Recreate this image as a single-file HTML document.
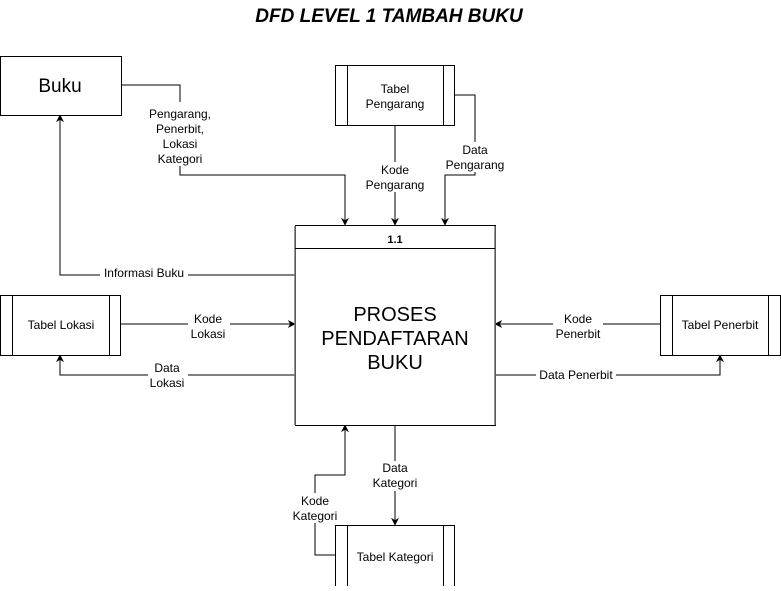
<!DOCTYPE html>
<html><head><meta charset="utf-8"><style>
body{margin:0;background:#fff;width:781px;height:586px;overflow:hidden}
svg text{font-family:"Liberation Sans",Arial,sans-serif;fill:#000}
</style></head><body>
<svg width="781" height="586" viewBox="0 0 781 586" xmlns="http://www.w3.org/2000/svg">
<defs><marker id="a" viewBox="0 0 10 10" refX="9" refY="5" markerWidth="8" markerHeight="8" orient="auto" markerUnits="userSpaceOnUse"><path d="M0,0 L10,5 L0,10 L3,5 z" fill="#000"/></marker></defs>
<text x="389" y="22" text-anchor="middle" font-size="19" font-weight="bold" font-style="italic">DFD LEVEL 1 TAMBAH BUKU</text>
<g fill="none" stroke="#000" stroke-width="1">
<path d="M122,85H180V175H345V225" marker-end="url(#a)"/>
<path d="M395,125V225" marker-end="url(#a)"/>
<path d="M455,95H475V175H445V225" marker-end="url(#a)"/>
<path d="M295,275H60V115" marker-end="url(#a)"/>
<path d="M121,324H295" marker-end="url(#a)"/>
<path d="M295,375H60V355" marker-end="url(#a)"/>
<path d="M660,324H495" marker-end="url(#a)"/>
<path d="M495,375H720V355" marker-end="url(#a)"/>
<path d="M395,425V525" marker-end="url(#a)"/>
<path d="M335,555H315V475H345V425" marker-end="url(#a)"/>
</g>
<g fill="#fff" stroke="#000">
<rect x="0.5" y="56.5" width="121" height="59"/>
<rect x="335.5" y="65.5" width="119" height="60"/>
<rect x="0.5" y="295.5" width="120" height="60"/>
<rect x="660.5" y="295.5" width="120" height="60"/>
<rect x="335.5" y="525.5" width="119" height="70"/>
<rect x="295.5" y="225.5" width="200" height="200"/>
</g>
<g stroke="#777" stroke-width="1.5">
<line x1="295" y1="226" x2="295" y2="425"/><line x1="495" y1="226" x2="495" y2="425"/>
</g>
<g stroke="#000">
<line x1="295" y1="248.5" x2="495" y2="248.5"/>
<line x1="347.5" y1="65" x2="347.5" y2="125"/><line x1="443.5" y1="65" x2="443.5" y2="125"/>
<line x1="12.5" y1="295" x2="12.5" y2="355"/><line x1="109.5" y1="295" x2="109.5" y2="355"/>
<line x1="672.5" y1="295" x2="672.5" y2="355"/><line x1="768.5" y1="295" x2="768.5" y2="355"/>
<line x1="347.5" y1="525" x2="347.5" y2="586"/><line x1="443.5" y1="525" x2="443.5" y2="586"/>
</g>
<text x="60" y="92" text-anchor="middle" font-size="19">Buku</text>
<text x="395" y="93" text-anchor="middle" font-size="12">Tabel</text>
<text x="395" y="108" text-anchor="middle" font-size="12">Pengarang</text>
<text x="61" y="329" text-anchor="middle" font-size="12">Tabel Lokasi</text>
<text x="720" y="329" text-anchor="middle" font-size="12">Tabel Penerbit</text>
<text x="395" y="561" text-anchor="middle" font-size="12">Tabel Kategori</text>
<text x="395" y="243" text-anchor="middle" font-size="11" font-weight="bold">1.1</text>
<text x="395" y="321" text-anchor="middle" font-size="20">PROSES</text>
<text x="395" y="345" text-anchor="middle" font-size="20">PENDAFTARAN</text>
<text x="395" y="369" text-anchor="middle" font-size="20">BUKU</text>
<g font-size="12" text-anchor="middle">
<rect x="143" y="102" width="74" height="64" fill="#fff"/>
<text x="180" y="118">Pengarang,</text><text x="180" y="133">Penerbit,</text><text x="180" y="148">Lokasi</text><text x="180" y="163">Kategori</text>
<rect x="360" y="162" width="72" height="30" fill="#fff"/>
<text x="395" y="174">Kode</text><text x="395" y="189">Pengarang</text>
<rect x="440" y="142" width="70" height="30" fill="#fff"/>
<text x="475" y="154">Data</text><text x="475" y="169">Pengarang</text>
<rect x="100" y="267" width="88" height="14" fill="#fff"/>
<text x="144" y="277">Informasi Buku</text>
<rect x="188" y="312" width="42" height="30" fill="#fff"/>
<text x="208" y="323">Kode</text><text x="208" y="338">Lokasi</text>
<rect x="148" y="362" width="40" height="30" fill="#fff"/>
<text x="167" y="372">Data</text><text x="167" y="387">Lokasi</text>
<rect x="553" y="312" width="50" height="30" fill="#fff"/>
<text x="578" y="323">Kode</text><text x="578" y="338">Penerbit</text>
<rect x="536" y="368" width="80" height="14" fill="#fff"/>
<text x="576" y="379">Data Penerbit</text>
<rect x="368" y="461" width="54" height="30" fill="#fff"/>
<text x="395" y="472">Data</text><text x="395" y="487">Kategori</text>
<rect x="288" y="493" width="54" height="30" fill="#fff"/>
<text x="315" y="505">Kode</text><text x="315" y="520">Kategori</text>
</g>
</svg>
</body></html>
